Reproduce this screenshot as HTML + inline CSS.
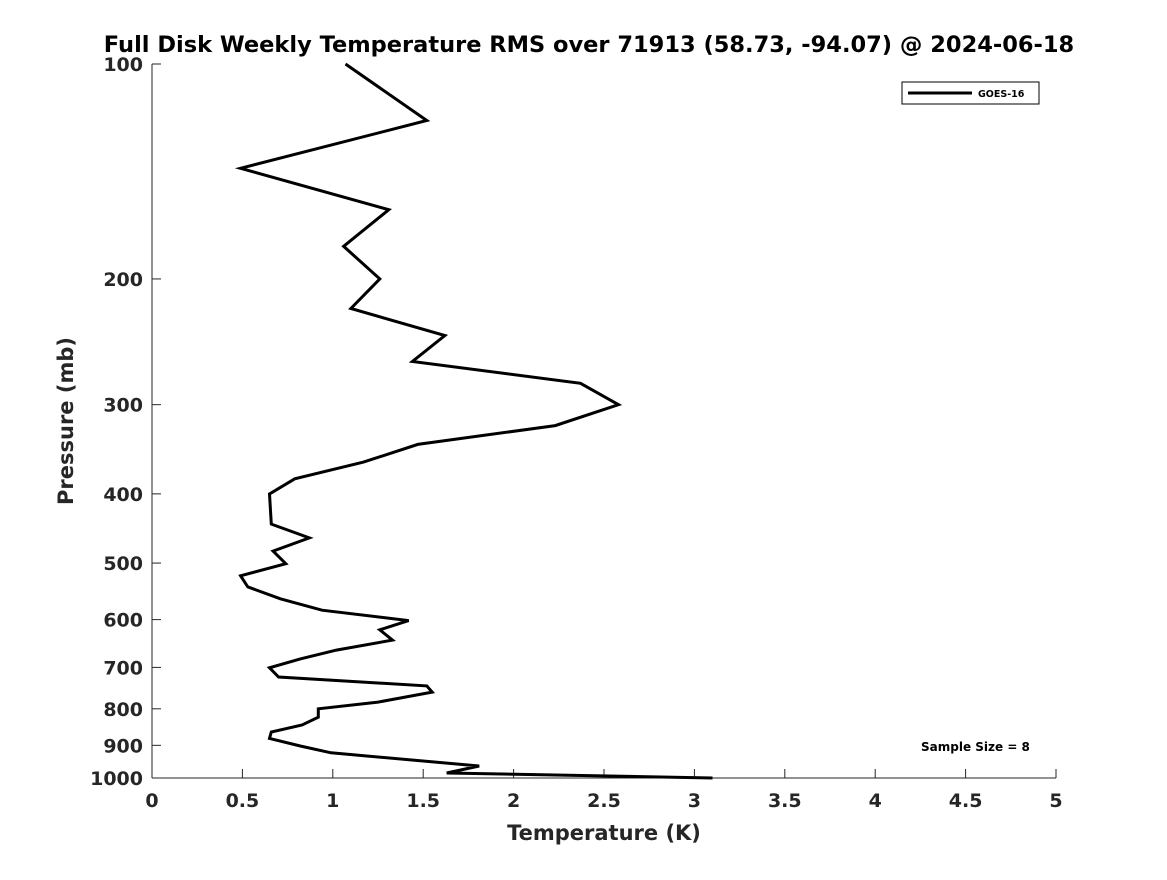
<!DOCTYPE html>
<html><head><meta charset="utf-8"><style>
body{margin:0;background:#fff;}
svg text{font-family:"DejaVu Sans","Liberation Sans",sans-serif;font-weight:bold;fill:#262626;}
</style></head><body>
<svg width="1167" height="875" viewBox="0 0 1167 875" xmlns="http://www.w3.org/2000/svg">
<rect width="1167" height="875" fill="#fff"/>
<text x="589" y="52" text-anchor="middle" font-size="22.5" style="fill:#000">Full Disk Weekly Temperature RMS over 71913 (58.73, -94.07) @ 2024-06-18</text>
<g id="axes"></g>
<g id="series"></g>
<g>
<rect x="902" y="82" width="137" height="22" fill="#fff" stroke="#000" stroke-width="1"/>
<line x1="908" y1="93" x2="972" y2="93" stroke="#000" stroke-width="3"/>
<text x="978" y="97" font-size="9.5" style="fill:#000">GOES-16</text>
</g>
<text x="921" y="751" font-size="12" style="fill:#000">Sample Size = 8</text>
<text x="604" y="840" text-anchor="middle" font-size="21">Temperature (K)</text>
<text transform="translate(73,421) rotate(-90)" text-anchor="middle" font-size="21">Pressure (mb)</text>
</svg>
<script>
const temps=[1.07,1.52,0.49,1.31,1.06,1.26,1.10,1.62,1.44,2.37,2.58,2.23,1.47,1.17,0.79,0.65,0.66,0.87,0.67,0.74,0.49,0.53,0.71,0.94,1.42,1.26,1.33,1.02,0.82,0.65,0.70,1.52,1.55,1.25,0.92,0.92,0.83,0.66,0.65,0.82,0.99,1.81,1.63,3.10];
const pressures=[100,120,140,160,180,200,220,240,261,280,300,321,341,361,381,400,441,461,481,501,521,540,561,582,602,620,641,662,681,701,722,743,758,783,800,822,843,862,880,902,922,962,984,1000];
const xTicks=[0,0.5,1,1.5,2,2.5,3,3.5,4,4.5,5];
const yTicks=[100,200,300,400,500,600,700,800,900,1000];
const X0=152,X1=1056,Y0=64,Y1=778;
const xs=t=>X0+(t-0)/5*(X1-X0);
const ys=p=>Y0+Math.log10(p/100)*(Y1-Y0);
const NS="http://www.w3.org/2000/svg";
const ax=document.getElementById('axes');
function mk(tag,attrs,parent){const e=document.createElementNS(NS,tag);for(const k in attrs)e.setAttribute(k,attrs[k]);parent.appendChild(e);return e;}
const l1=mk('line',{x1:X0,y1:Y0,x2:X0,y2:Y1,stroke:'#262626','stroke-width':1},ax);


const l2=mk('line',{x1:X0,y1:Y1,x2:X1,y2:Y1,stroke:'#262626','stroke-width':1},ax);


xTicks.forEach(t=>{
 const x=xs(t);
 const tk=mk('line',{x1:x,y1:Y1,x2:x,y2:Y1-9,stroke:'#262626'},ax);
 
 
 const tx=mk('text',{x:x,y:807,'text-anchor':'middle','font-size':19},ax);
 tx.textContent=String(t);
 
 
});
yTicks.forEach(p=>{
 const y=ys(p);
 const tk=mk('line',{x1:X0,y1:y,x2:X0+9,y2:y,stroke:'#262626'},ax);
 
 
 const tx=mk('text',{x:143,y:y+7,'text-anchor':'end','font-size':19},ax);
 tx.textContent=String(p);
 
 
});
const pts=temps.map((t,i)=>xs(t).toFixed(1)+','+ys(pressures[i]).toFixed(1)).join(' ');
const pl=mk('polyline',{points:pts,fill:'none',stroke:'#000','stroke-width':3,'stroke-linejoin':'miter'},document.getElementById('series'));


</script>
</body></html>
